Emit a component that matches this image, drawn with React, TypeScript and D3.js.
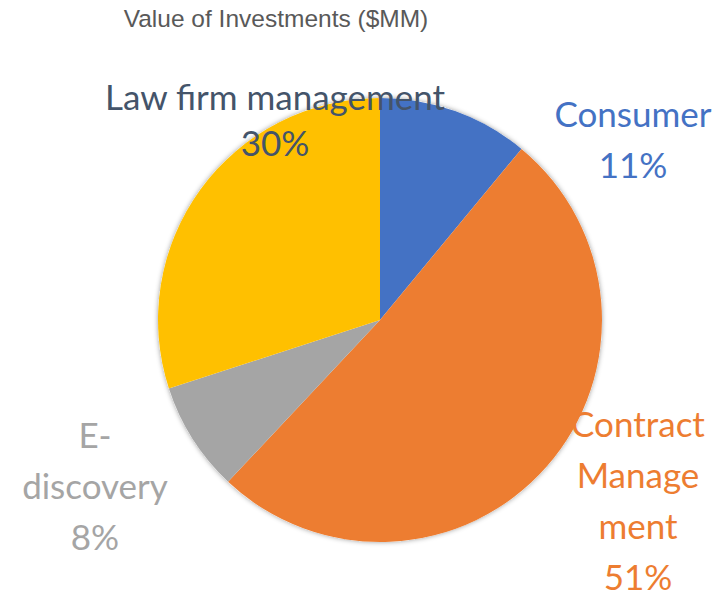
import React, { useEffect, useRef } from "react";
import * as d3 from "d3";

// ---- data ----
const categories = ["Consumer", "Contract Management", "E-discovery", "Law firm management"];
const shares = [11, 51, 8, 30];
const colors = ["#4472C4", "#ED7D31", "#A5A5A5", "#FFC000"];
const labelColors = ["#4472C4", "#ED7D31", "#A5A5A5", "#44546A"];
// label lines as wrapped in the original
const labelLines = [
  ["Consumer"],
  ["Contract", "Manage", "ment"],
  ["E-", "discovery"],
  ["Law firm management"],
];
const title = "Value of Investments ($MM)";

export default function App() {
  const ref = useRef<SVGSVGElement | null>(null);

  useEffect(() => {
    const cx = 380;
    const cy = 320;
    const radius = 222;

    const svg = d3.select(ref.current);
    svg.selectAll("*").remove();

    const defs = svg.append("defs");
    const filter = defs
      .append("filter")
      .attr("id", "shadow")
      .attr("x", "-10%")
      .attr("y", "-10%")
      .attr("width", "120%")
      .attr("height", "120%");
    filter
      .append("feDropShadow")
      .attr("dx", 0)
      .attr("dy", 0)
      .attr("stdDeviation", 2.5)
      .attr("flood-color", "#000")
      .attr("flood-opacity", 0.4);

    svg
      .append("text")
      .attr("x", 276)
      .attr("y", 27)
      .attr("text-anchor", "middle")
      .style("font-family", "Arial, 'Liberation Sans', sans-serif")
      .style("font-size", "24.5px")
      .attr("fill", "#595959")
      .text(title);

    const data = categories.map((c, i) => ({ name: c, value: shares[i], i }));

    const pie = d3
      .pie<{ name: string; value: number; i: number }>()
      .value((d) => d.value)
      .sort(null);

    const arc = d3
      .arc<d3.PieArcDatum<{ name: string; value: number; i: number }>>()
      .innerRadius(0)
      .outerRadius(radius);

    const g = svg.append("g").attr("transform", `translate(${cx},${cy})`);

    g.append("circle")
      .attr("r", radius)
      .attr("fill", "#fff")
      .attr("filter", "url(#shadow)");

    g.selectAll("path")
      .data(pie(data))
      .join("path")
      .attr("d", arc)
      .attr("fill", (d) => colors[d.data.i]);

    // label placements (center x, first baseline y)
    const labelPos = [
      [633, 127],
      [638, 437],
      [95, 448],
      [275, 110],
    ];
    const lineHeight = 51;

    data.forEach((d, i) => {
      const lines = [...labelLines[i], `${d.value}%`];
      const t = svg
        .append("text")
        .attr("text-anchor", "middle")
        .style("font-family", "Lato, 'Open Sans', sans-serif")
        .style("font-size", "35px")
        .attr("fill", labelColors[i]);
      lines.forEach((ln, k) => {
        t.append("tspan")
          .attr("x", labelPos[i][0])
          .attr("y", labelPos[i][1] + k * (i === 3 ? 46 : lineHeight))
          .text(ln);
      });
    });
  }, []);

  return <svg ref={ref} width={726} height={598} style={{ display: "block", margin: "-8px" }} />;
}
